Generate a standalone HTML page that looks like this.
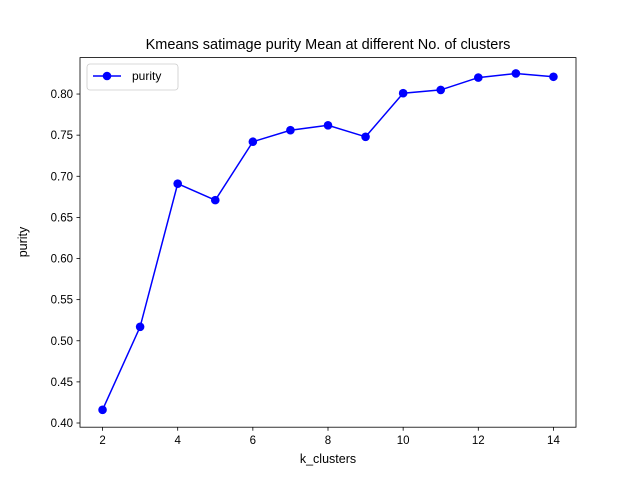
<!DOCTYPE html>
<html><head><meta charset="utf-8"><style>body{margin:0;background:#fff}svg{display:block;font-family:"Liberation Sans","DejaVu Sans",sans-serif}</style></head>
<body>
<svg id="chart" width="640" height="480">
<rect width="640" height="480" fill="#fff"/>
<text x="328" y="49" text-anchor="middle" font-size="14.5">Kmeans satimage purity Mean at different No. of clusters</text>
<g id="axes"></g>
<g id="series"></g>
<rect x="80" y="57.6" width="496" height="369.6" fill="none" stroke="#000" stroke-width="0.8"/>
<text x="328" y="463" text-anchor="middle" font-size="12.5">k_clusters</text>
<text x="27" y="242" text-anchor="middle" font-size="12.5" transform="rotate(-90 27 242)">purity</text>
<g>
<rect x="87" y="64" width="91" height="26" rx="3" fill="#fff" stroke="#ccc" stroke-width="0.8"/>
<line x1="93" y1="76" x2="121" y2="76" stroke="#0000ff" stroke-width="1.5"/>
<circle cx="107" cy="76" r="4.3" fill="#0000ff"/>
<text x="132" y="80" font-size="12">purity</text>
</g>
</svg>
<script>
const categories = [2,3,4,5,6,7,8,9,10,11,12,13,14];
const purityValues = [0.416,0.517,0.691,0.671,0.742,0.756,0.762,0.748,0.801,0.805,0.820,0.825,0.821];
const xTicks = [2,4,6,8,10,12,14];
const yTicks = [0.40,0.45,0.50,0.55,0.60,0.65,0.70,0.75,0.80];
const NS='http://www.w3.org/2000/svg';
const X0=80,X1=576,Y0=427.2,Y1=57.6,xmin=1.4,xmax=14.6,ymin=0.3949,ymax=0.8443;
function sx(v){return X0+(v-xmin)/(xmax-xmin)*(X1-X0);}
function sy(v){return Y0-(v-ymin)/(ymax-ymin)*(Y0-Y1);}
function mk(t,a,p){const e=document.createElementNS(NS,t);for(const k in a)e.setAttribute(k,a[k]);p.appendChild(e);return e;}
const ax=document.getElementById('axes'),se=document.getElementById('series');
xTicks.forEach(t=>{const x=sx(t);
const l=mk('line',{x1:x,x2:x,y1:Y0,y2:Y0+3.5,stroke:'#000','stroke-width':0.8},ax);


const tx=mk('text',{x:x,y:Y0+17,'text-anchor':'middle','font-size':'11.5'},ax);tx.textContent=t;

});
yTicks.forEach(t=>{const y=sy(t);
const l=mk('line',{x1:X0-3.5,x2:X0,y1:y,y2:y,stroke:'#000','stroke-width':0.8},ax);


const tx=mk('text',{x:X0-7,y:y+4,'text-anchor':'end','font-size':'11.5'},ax);tx.textContent=t.toFixed(2);

});
const pts=categories.map((c,i)=>sx(c)+','+sy(purityValues[i])).join(' ');
const pl=mk('polyline',{points:pts,fill:'none',stroke:'#0000ff','stroke-width':1.5},se);


categories.forEach((c,i)=>{const p=mk('circle',{cx:sx(c),cy:sy(purityValues[i]),r:4.3,fill:'#0000ff'},se);

});
</script>
</body></html>
